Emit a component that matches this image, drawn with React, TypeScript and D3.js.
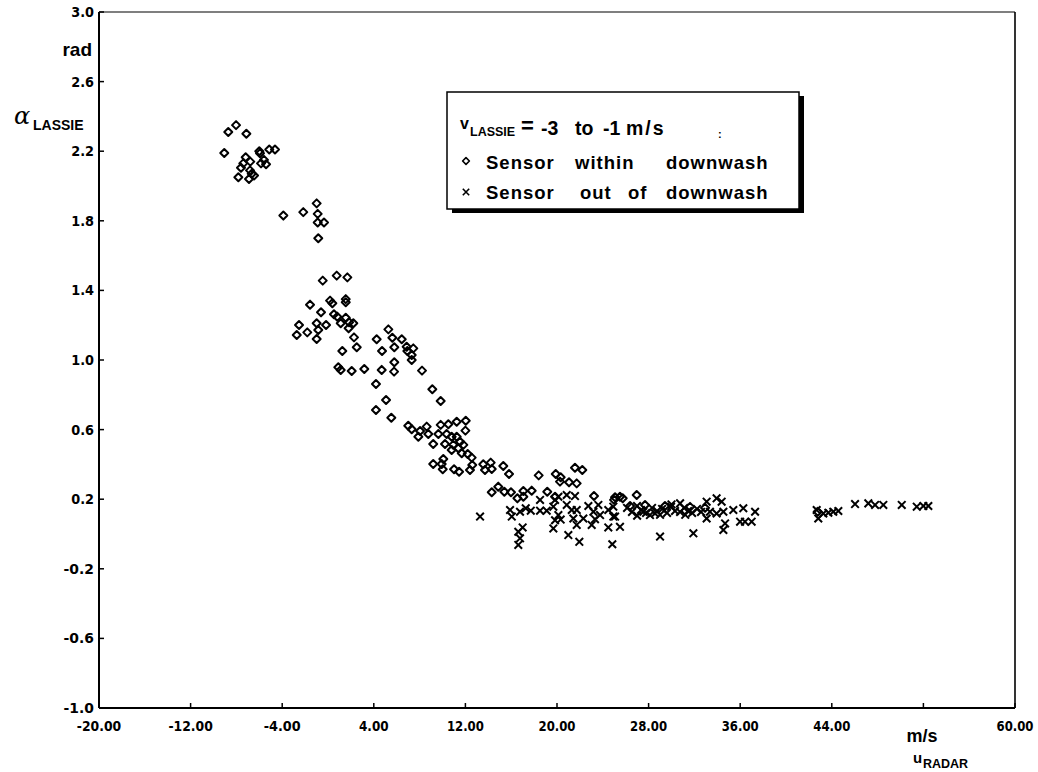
import React from "react";
import * as d3 from "d3";

// ---- data (u_RADAR m/s, alpha_LASSIE rad) ----
const withinDownwash: [number, number][] = [
  [-8.03, 2.35], [-8.71, 2.31], [-7.13, 2.30], [-9.06, 2.19], [-6.0, 2.20], [-5.94, 2.188],
  [-5.13, 2.21], [-4.63, 2.21], [-7.19, 2.165], [-6.79, 2.14], [-7.40, 2.13], [-7.60, 2.105],
  [-6.81, 2.09], [-5.59, 2.15], [-5.85, 2.13], [-5.41, 2.125], [-7.83, 2.05], [-6.90, 2.04],
  [-6.46, 2.06], [-6.66, 2.07],
  [-3.90, 1.83], [-2.16, 1.85], [-0.99, 1.90], [-0.90, 1.84], [-0.90, 1.79], [-0.35, 1.79], [-0.85, 1.70],
  [-0.46, 1.456], [0.76, 1.485], [1.69, 1.475], [-1.57, 1.318], [0.18, 1.341], [0.38, 1.326],
  [1.55, 1.35], [1.55, 1.332], [-0.61, 1.274], [0.52, 1.263], [0.81, 1.249], [1.55, 1.243],
  [1.11, 1.211], [1.84, 1.217], [2.21, 1.211], [1.80, 1.182], [-2.53, 1.201], [-0.99, 1.211],
  [-0.17, 1.201], [-0.85, 1.172], [-1.81, 1.159], [-2.73, 1.144], [-0.99, 1.121], [2.27, 1.130],
  [2.51, 1.073], [1.25, 1.052], [5.27, 1.176], [4.25, 1.119], [5.62, 1.128], [6.44, 1.119],
  [5.79, 1.073], [4.72, 1.052], [6.87, 1.076], [7.45, 1.067], [6.93, 1.052], [7.31, 1.029],
  [7.31, 1.0], [5.79, 0.987], [0.90, 0.958], [1.11, 0.943], [2.07, 0.937], [3.17, 0.948],
  [4.69, 0.943], [5.77, 0.933], [8.21, 0.939], [4.19, 0.862], [9.11, 0.832], [9.84, 0.764],
  [5.07, 0.770], [4.19, 0.713], [5.53, 0.668], [7.01, 0.622], [7.31, 0.602], [8.62, 0.617],
  [8.04, 0.592], [7.89, 0.559], [8.76, 0.575], [9.64, 0.575], [9.84, 0.627], [10.51, 0.631],
  [11.24, 0.645], [12.03, 0.651], [12.0, 0.594], [10.36, 0.575], [10.80, 0.559], [11.24, 0.559],
  [11.53, 0.530], [10.94, 0.512], [9.19, 0.517], [10.22, 0.517], [10.80, 0.483], [11.38, 0.493],
  [11.82, 0.512], [11.68, 0.464], [12.20, 0.460], [12.55, 0.439], [10.07, 0.431], [9.19, 0.402],
  [9.93, 0.402], [10.02, 0.372], [11.01, 0.372], [11.45, 0.358], [12.40, 0.368], [12.60, 0.397],
  [13.56, 0.401], [14.21, 0.410], [14.30, 0.374], [13.71, 0.368], [14.87, 0.272],
  [15.31, 0.391], [15.81, 0.345], [18.40, 0.337], [19.89, 0.345], [20.32, 0.326], [20.26, 0.301],
  [21.05, 0.297], [21.72, 0.291], [21.57, 0.381], [22.21, 0.368], [14.30, 0.240], [15.40, 0.243],
  [15.98, 0.240], [17.06, 0.247], [17.79, 0.249], [17.06, 0.214], [16.54, 0.205], [19.15, 0.243],
  [19.83, 0.214], [23.23, 0.218], [25.07, 0.211], [25.50, 0.214], [26.96, 0.224], [25.74, 0.205],
  [24.98, 0.196], [26.38, 0.161], [27.69, 0.167], [29.43, 0.161], [31.62, 0.156], [32.93, 0.150],
  [42.77, 0.128],
];

const outOfDownwash: [number, number][] = [
  [13.28, 0.100], [15.90, 0.138], [16.05, 0.100], [16.77, 0.128], [17.27, 0.148], [17.71, 0.134],
  [18.52, 0.196], [18.52, 0.134], [19.10, 0.134], [19.68, 0.157], [19.83, 0.196], [20.12, 0.214],
  [20.85, 0.224], [21.57, 0.218], [20.12, 0.109], [19.83, 0.079], [20.32, 0.083], [20.85, 0.167],
  [21.29, 0.138], [21.72, 0.138], [21.43, 0.089], [22.30, 0.089], [21.72, 0.052], [19.68, 0.032],
  [17.0, 0.038], [16.62, 0.013], [16.77, -0.025], [16.62, -0.063], [20.99, -0.006], [21.95, -0.045],
  [24.83, -0.059], [22.74, 0.161], [23.61, 0.167], [23.18, 0.128], [23.76, 0.109], [24.48, 0.138],
  [23.03, 0.052], [23.32, 0.085], [24.48, 0.038], [25.07, 0.100], [24.92, 0.157], [24.92, 0.100],
  [25.50, 0.041], [29.0, -0.015], [31.91, 0.004], [28.12, 0.109], [34.53, 0.023], [34.68, 0.061],
  [35.40, 0.138], [36.27, 0.148], [37.30, 0.128], [35.99, 0.071], [37.0, 0.071], [36.42, 0.071],
  [33.07, 0.186], [33.94, 0.205], [34.38, 0.186], [33.36, 0.128], [33.07, 0.089], [33.94, 0.118],
  [34.53, 0.128], [30.75, 0.176], [28.56, 0.118], [27.54, 0.128],
  [26.12, 0.150], [26.55, 0.127], [26.99, 0.161], [27.34, 0.138], [27.78, 0.121], [28.30, 0.150],
  [28.74, 0.132], [29.18, 0.144], [29.61, 0.121], [29.96, 0.156], [30.31, 0.132], [30.75, 0.127],
  [31.10, 0.150], [31.45, 0.132], [31.80, 0.121], [32.23, 0.144], [32.58, 0.127], [30.0, 0.170],
  [31.2, 0.110], [29.0, 0.110], [27.0, 0.105],
  [42.68, 0.138], [42.82, 0.089], [43.26, 0.118], [43.70, 0.122], [44.13, 0.128], [44.57, 0.132],
  [46.03, 0.172], [47.19, 0.176], [47.78, 0.167], [48.50, 0.167], [50.11, 0.167], [51.42, 0.157],
  [52.0, 0.161], [52.43, 0.161],
];

const xTicks = [-20, -12, -4, 4, 12, 20, 28, 36, 44, 52, 60];
const xTickLabels = ["-20.00", "-12.00", "-4.00", "4.00", "12.00", "20.00", "28.00", "36.00", "44.00", "", "60.00"];
const yTicks = [3.0, 2.6, 2.2, 1.8, 1.4, 1.0, 0.6, 0.2, -0.2, -0.6, -1.0];
const yTickLabels = ["3.0", "2.6", "2.2", "1.8", "1.4", "1.0", "0.6", "0.2", "-0.2", "-0.6", "-1.0"];

const W = 1038;
const H = 772;
const M = { left: 99, right: 1015, top: 12, bottom: 708 };

const tickFont = "'DejaVu Sans', sans-serif";
const labelFont = "'Liberation Sans', Arial, sans-serif";

export default function App() {
  const x = d3.scaleLinear().domain([-20, 60]).range([M.left, M.right]);
  const y = d3.scaleLinear().domain([-1, 3]).range([M.bottom, M.top]);
  const s = 4;
  const diamond = `M0,${-s}L${s},0L0,${s}L${-s},0Z`;
  const c = 3.8;
  const cross = `M${-c},${-c}L${c},${c}M${-c},${c}L${c},${-c}`;

  return (
    <svg width={W} height={H} style={{ position: "absolute", left: 0, top: 0, background: "#fff" }}>
      {/* frame */}
      <line x1={M.left} y1={M.top} x2={M.right} y2={M.top} stroke="#000" strokeWidth={1.2} />
      <line x1={M.right} y1={M.top} x2={M.right} y2={M.bottom} stroke="#000" strokeWidth={1.6} />
      <line x1={M.left} y1={M.top} x2={M.left} y2={M.bottom} stroke="#000" strokeWidth={2} />
      <line x1={M.left} y1={M.bottom} x2={M.right} y2={M.bottom} stroke="#000" strokeWidth={2} />

      {/* y ticks */}
      {yTicks.map((t, i) => (
        <g key={"y" + i}>
          <line x1={M.left} x2={M.left + 5} y1={y(t)} y2={y(t)} stroke="#000" strokeWidth={1.5} />
          <text x={94} y={y(t) + 5} textAnchor="end" fontFamily={tickFont} fontWeight="bold" fontSize={13.5}
            textLength={yTickLabels[i].length * 7.6} lengthAdjust="spacingAndGlyphs">
            {yTickLabels[i]}
          </text>
        </g>
      ))}
      {/* x ticks */}
      {xTicks.map((t, i) =>
        <g key={"x" + i}>
          <line x1={x(t)} x2={x(t)} y1={M.bottom} y2={M.bottom - 5} stroke="#000" strokeWidth={1.5} />
          {xTickLabels[i] !== "" && (
            <text x={x(t)} y={731} textAnchor="middle" fontFamily={tickFont} fontWeight="bold" fontSize={13.5}
              textLength={xTickLabels[i].length * 7.4} lengthAdjust="spacingAndGlyphs">
              {xTickLabels[i]}
            </text>
          )}
        </g>
      )}

      {/* axis titles */}
      <text x={92} y={56} textAnchor="end" fontFamily={labelFont} fontWeight="bold" fontSize={19}>rad</text>
      <text x={14} y={124} fontFamily="'DejaVu Serif', serif" fontStyle="italic" fontSize={24}>α</text>
      <text x={33} y={130} fontFamily={labelFont} fontWeight="bold" fontSize={14}>LASSIE</text>
      <text x={922} y={742} textAnchor="middle" fontFamily={labelFont} fontWeight="bold" fontSize={18}>m/s</text>
      <text x={913} y={763} fontFamily={labelFont} fontWeight="bold" fontSize={15}>u</text>
      <text x={923} y={768} fontFamily={labelFont} fontWeight="bold" fontSize={12.5}>RADAR</text>

      {/* data */}
      {withinDownwash.map((d, i) => (
        <path key={"w" + i} d={diamond} transform={`translate(${x(d[0])},${y(d[1])})`} fill="none" stroke="#000" strokeWidth={2} strokeLinejoin="round" />
      ))}
      {outOfDownwash.map((d, i) => (
        <path key={"o" + i} d={cross} transform={`translate(${x(d[0])},${y(d[1])})`} fill="none" stroke="#000" strokeWidth={2} />
      ))}

      {/* legend */}
      <g fontFamily={labelFont} fontWeight="bold">
        <rect x={452} y={96} width={352} height={117} fill="#000" />
        <rect x={447} y={92} width={352} height={117} fill="#fff" stroke="#000" strokeWidth={1.5} />
        <text x={460} y={129} fontSize={16}>v</text>
        <text x={470} y={136} fontSize={12.5}>LASSIE</text>
        <text x={521} y={133} fontSize={22}>=</text>
        <text x={541} y={135} fontSize={19.5}>-3</text>
        <text x={575} y={135} fontSize={19.5}>to</text>
        <text x={603} y={135} fontSize={19.5}>-1</text>
        <text x={626} y={135} fontSize={19.5} letterSpacing={2}>m/s</text>
        <text x={718} y={138} fontSize={11}>:</text>
        <path d="M0,-3.4L3.4,0L0,3.4L-3.4,0Z" transform="translate(466,161)" fill="none" stroke="#000" strokeWidth={1.6} strokeLinejoin="round" />
        <g fontSize={18.5} letterSpacing={1}>
          <text x={486} y={169}>Sensor</text>
          <text x={575} y={169}>within</text>
          <text x={666} y={169}>downwash</text>
        </g>
        <path d="M-3.2,-3.2L3.2,3.2M-3.2,3.2L3.2,-3.2" transform="translate(466,192)" fill="none" stroke="#000" strokeWidth={1.6} />
        <g fontSize={18.5} letterSpacing={1}>
          <text x={486} y={199}>Sensor</text>
          <text x={580} y={199}>out</text>
          <text x={628} y={199}>of</text>
          <text x={666} y={199}>downwash</text>
        </g>
      </g>
    </svg>
  );
}
